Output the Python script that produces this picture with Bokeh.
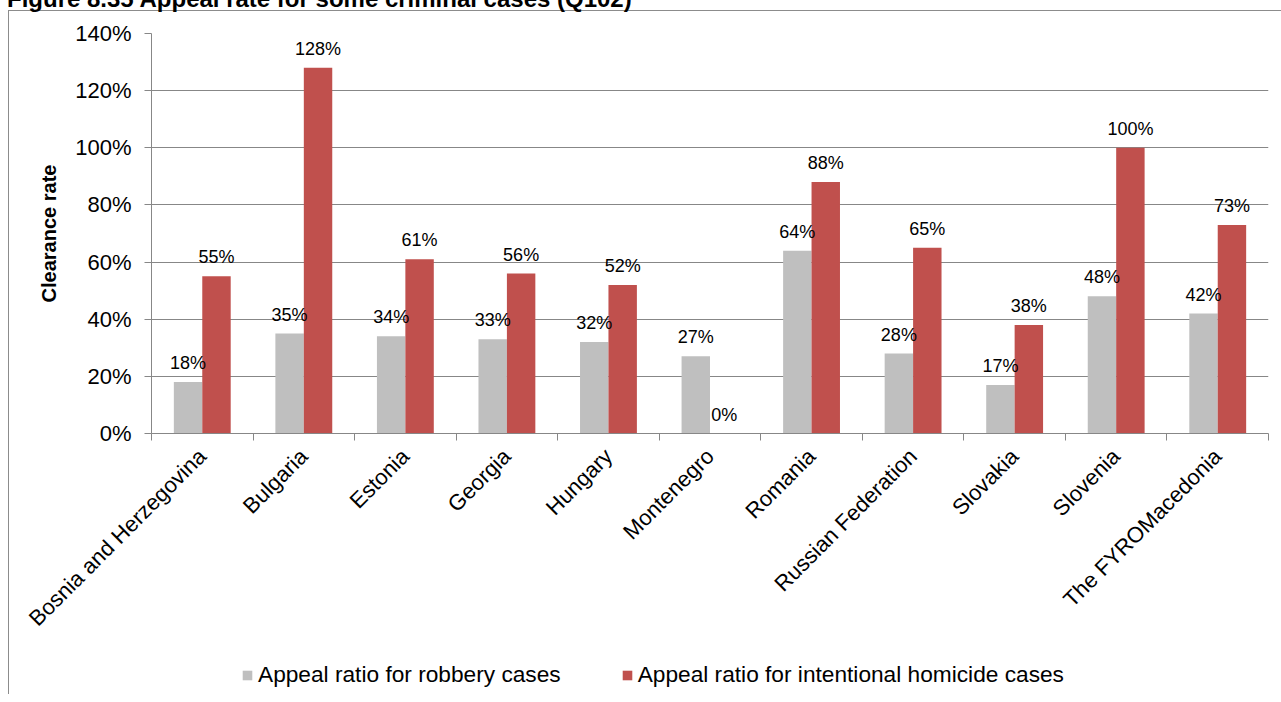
from math import pi
import numpy as np
from bokeh.plotting import figure
from bokeh.layouts import column
from bokeh.core.properties import value
from bokeh.models import (ColumnDataSource, Range1d, FixedTicker, PrintfTickFormatter,
                          LabelSet, Legend, LegendItem, Div)
from bokeh.embed import file_html
from bokeh.resources import INLINE

# ---------------- data ----------------
countries = ["Bosnia and Herzegovina", "Bulgaria", "Estonia", "Georgia", "Hungary",
             "Montenegro", "Romania", "Russian Federation", "Slovakia", "Slovenia",
             "The FYROMacedonia"]
robbery = [18, 35, 34, 33, 32, 27, 64, 28, 17, 48, 42]
homicide = [55, 128, 61, 56, 52, 0, 88, 65, 38, 100, 73]
y_ticks = [0, 20, 40, 60, 80, 100, 120, 140]
series_names = ["Appeal ratio for robbery cases",
                "Appeal ratio for intentional homicide cases"]
title_text = "Figure 8.35 Appeal rate for some criminal cases (Q102)"
y_title = "Clearance rate"

FONT = "Liberation Sans"
GRAY = "#bfbfbf"
RED = "#c0504d"
AXIS = "#878787"

n = len(countries)
centers = np.arange(n) + 0.5
bounds = list(np.arange(n + 1).astype(float))

src = ColumnDataSource(dict(
    xr=centers - 0.14, xh=centers + 0.14,
    rob=robbery, hom=homicide,
    rob_lbl=[f"{v}%" for v in robbery],
    hom_lbl=[f"{v}%" for v in homicide],
))

bg = ("linear-gradient(#8c8c8c,#8c8c8c) 16px 18px / 1px 3000px no-repeat, "
      "linear-gradient(#8c8c8c,#8c8c8c) 16px 18px / 3000px 1px no-repeat, white")

# title strip (only its lower edge is inside the window, as in the original)
head = Div(text=f'<span style="position:relative;top:-10px;left:10px;">{title_text}</span>',
           width=1281, height=13,
           styles={"font-family": FONT, "font-weight": "bold", "font-size": "24px",
                   "line-height": "24px", "white-space": "nowrap", "color": "black",
                   "overflow": "visible"})

p = figure(width=1281, height=627, x_range=Range1d(0, n), y_range=Range1d(0, 140),
           output_backend="svg", toolbar_location=None,
           min_border_left=159, min_border_right=5, min_border_top=18,
           min_border_bottom=209)
p.outline_line_color = None
p.background_fill_color = "white"
p.border_fill_alpha = 0

r1 = p.vbar(x="xr", top="rob", width=0.28, source=src, fill_color=GRAY, line_color=None)
r2 = p.vbar(x="xh", top="hom", width=0.28, source=src, fill_color=RED, line_color=None)

for col, ys, lbl in (("xr", "rob", "rob_lbl"), ("xh", "hom", "hom_lbl")):
    ls = LabelSet(x=col, y=ys, text=lbl, source=src, y_offset=19,
                  text_align="center", text_baseline="middle",
                  text_font=value(FONT), text_font_size="18px", text_color="black")
    p.add_layout(ls)

# y axis
p.yaxis.ticker = FixedTicker(ticks=y_ticks)
p.yaxis.formatter = PrintfTickFormatter(format="%d%%")
p.yaxis.axis_label = y_title
p.yaxis.axis_label_text_font = FONT
p.yaxis.axis_label_text_font_style = "bold"
p.yaxis.axis_label_text_font_size = "20px"
p.yaxis.axis_label_text_color = "black"
p.yaxis.axis_label_standoff = 12
p.yaxis.major_label_text_font = FONT
p.yaxis.major_label_text_font_size = "22px"
p.yaxis.major_label_text_color = "black"
p.yaxis.major_label_standoff = 13
p.yaxis.major_tick_out = 7
p.yaxis.major_tick_in = 0
p.yaxis.minor_tick_line_color = None
p.yaxis.axis_line_color = AXIS
p.yaxis.major_tick_line_color = AXIS

# x axis
p.xaxis.ticker = FixedTicker(ticks=list(centers), minor_ticks=bounds)
p.xaxis.major_label_overrides = {float(c): name for c, name in zip(centers, countries)}
p.xaxis.major_label_orientation = pi / 4
p.xaxis.major_label_text_font = FONT
p.xaxis.major_label_text_font_size = "22px"
p.xaxis.major_label_text_color = "black"
p.xaxis.major_label_standoff = 12
p.xaxis.major_tick_line_color = None
p.xaxis.major_tick_out = 0
p.xaxis.major_tick_in = 0
p.xaxis.minor_tick_out = 7
p.xaxis.minor_tick_in = 0
p.xaxis.minor_tick_line_color = AXIS
p.xaxis.axis_line_color = AXIS

p.xgrid.grid_line_color = None
p.ygrid.grid_line_color = AXIS
p.ygrid.grid_line_width = 1

# legend strip (own small figure, same series colours; zero-height key bars)
q = figure(width=1281, height=52, x_axis_type=None, y_axis_type=None,
           output_backend="svg", toolbar_location=None, min_border=0)
q.outline_line_color = None
q.background_fill_alpha = 0
q.border_fill_alpha = 0
q.grid.grid_line_color = None
k1 = q.vbar(x=[0], top=[0], width=0.28, fill_color=GRAY, line_color=None)
k2 = q.vbar(x=[0], top=[0], width=0.28, fill_color=RED, line_color=None)
legend = Legend(items=[LegendItem(label=series_names[0], renderers=[k1]),
                       LegendItem(label=series_names[1], renderers=[k2])],
                orientation="horizontal", location=(90, 6),
                label_text_font=FONT, label_text_font_size="22.7px",
                label_text_color="black",
                glyph_width=12, glyph_height=12, label_standoff=5, spacing=60,
                padding=0, margin=0, border_line_color=None,
                background_fill_alpha=0)
q.add_layout(legend, "center")

layout = column(head, p, q, spacing=0,
                styles={"margin-left": "-8px", "margin-top": "-8px", "background": bg})

open("out.html", "w").write(file_html(layout, INLINE))
